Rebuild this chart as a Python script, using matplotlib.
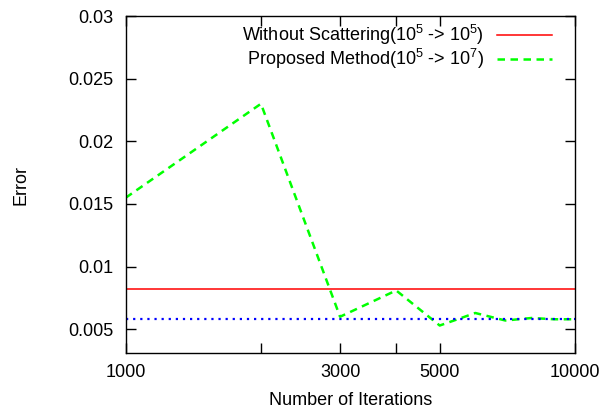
import matplotlib
matplotlib.use("Agg")
import matplotlib.pyplot as plt
from matplotlib.ticker import FixedLocator, FixedFormatter, NullLocator

plt.rcParams['font.family'] = ['Liberation Sans', 'DejaVu Sans']
plt.rcParams['mathtext.fontset'] = 'custom'
plt.rcParams['mathtext.rm'] = 'Liberation Sans'
plt.rcParams['mathtext.it'] = 'Liberation Sans'
plt.rcParams['font.size'] = 13

iterations = [1000, 2000, 3000, 4000, 5000, 6000, 7000, 8000, 9000, 10000]
proposed_error = [0.0155, 0.0230, 0.0060, 0.0081, 0.0053, 0.0063, 0.0057, 0.0059, 0.0058, 0.0058]
without_scattering_error = 0.00824
reference_error = 0.00582

x_ticks = [1000, 2000, 3000, 4000, 5000, 10000]
x_tick_labels = ['1000', '', '3000', '', '5000', '10000']
y_ticks = [0.005, 0.01, 0.015, 0.02, 0.025, 0.03]
y_tick_labels = ['0.005', '0.01', '0.015', '0.02', '0.025', '0.03']

fig = plt.figure(figsize=(6.12, 4.12), dpi=100)
ax = fig.add_axes([0.2054, 0.143, 0.7341, 0.818])

ax.axhline(without_scattering_error, color='#ff0000', lw=1.1,
           label=r'Without Scattering(10$^{5}$ -> 10$^{5}$)')
ax.plot(iterations, proposed_error, color='#00ff00', lw=1.8, ls=(0, (3, 2.2)),
        label=r'Proposed Method(10$^{5}$ -> 10$^{7}$)')
ax.axhline(reference_error, color='#0000ff', lw=1.6, ls=(0, (1, 2.2)))

ax.set_xscale('log')
ax.set_xlim(1000, 10000)
ax.set_ylim(0.0031, 0.03)
ax.xaxis.set_major_locator(FixedLocator(x_ticks))
ax.xaxis.set_major_formatter(FixedFormatter(x_tick_labels))
ax.xaxis.set_minor_locator(NullLocator())
ax.yaxis.set_major_locator(FixedLocator(y_ticks))
ax.yaxis.set_major_formatter(FixedFormatter(y_tick_labels))
ax.tick_params(which='both', direction='in', top=True, right=True, length=7, width=1)
ax.tick_params(axis='x', pad=8)
ax.tick_params(axis='y', pad=9)
for s in ax.spines.values():
    s.set_linewidth(1.0)

ax.set_xlabel('Number of Iterations', labelpad=8)
ax.set_ylabel('Error', labelpad=28)

leg = ax.legend(loc='upper right', bbox_to_anchor=(0.948, 0.98), frameon=False,
                markerfirst=False, handlelength=3.05, handletextpad=0.72,
                labelspacing=0.0, borderpad=0, borderaxespad=0)
for t in leg.get_texts():
    t.set_ha('right')

fig.savefig('out.png', dpi=100)
